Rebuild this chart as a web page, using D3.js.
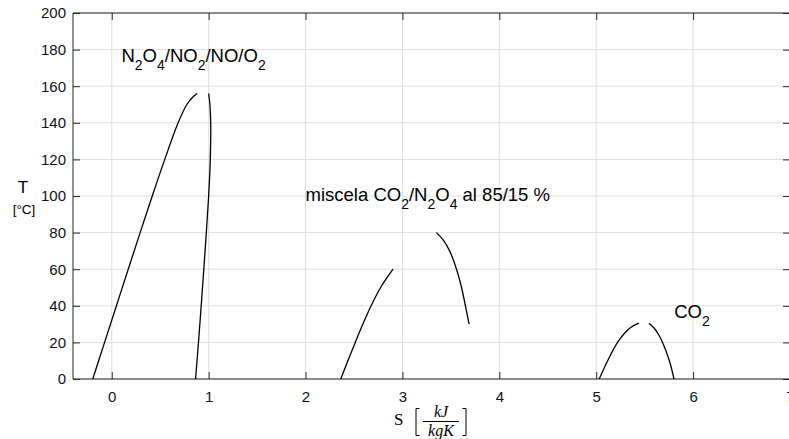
<!DOCTYPE html>
<html>
<head>
<meta charset="utf-8">
<script src="https://cdn.jsdelivr.net/npm/d3@7.9.0/dist/d3.min.js"></script>
<style>
  body { margin: 0; background: #fff; }
  svg { display: block; font-family: "Liberation Sans", Arial, sans-serif; }
</style>
</head>
<body>
<svg id="chart" width="789" height="439"></svg>
<script>
// axis ticks
const xTicks = [0, 1, 2, 3, 4, 5, 6, 7];
const yTicks = [0, 20, 40, 60, 80, 100, 120, 140, 160, 180, 200];

// saturation curves, [s kJ/kgK, T °C]
const n2o4Liquid = [[-0.196, 0], [-0.074, 20], [0.048, 40], [0.170, 60], [0.293, 80],
  [0.418, 100], [0.547, 120], [0.685, 140], [0.775, 150], [0.835, 154], [0.882, 156]];
const n2o4Vapor = [[1.0, 156], [1.013, 150], [1.021, 140], [1.017, 120], [1.0, 100],
  [0.976, 80], [0.95, 60], [0.923, 40], [0.895, 20], [0.865, 0]];
const mixLiquid = [[2.363, 0], [2.437, 10], [2.513, 20], [2.592, 30], [2.677, 40],
  [2.775, 50], [2.903, 60]];
const mixVapor = [[3.351, 80], [3.42, 76], [3.487, 70], [3.558, 60], [3.61, 50],
  [3.65, 40], [3.688, 30]];
const co2Liquid = [[5.031, 0], [5.118, 10], [5.22, 20], [5.292, 25], [5.352, 28], [5.44, 30.5]];
const co2Vapor = [[5.544, 30.5], [5.595, 28], [5.635, 25], [5.685, 20], [5.755, 10], [5.803, 0]];

const curves = [n2o4Liquid, n2o4Vapor, mixLiquid, mixVapor, co2Liquid, co2Vapor];

// labels: [s, T] anchor of the baseline start and text parts (true = subscript)
const labels = [
  { at: [0.1, 173], parts: [['N'], ['2', true], ['O'], ['4', true], ['/NO'], ['2', true], ['/NO/O'], ['2', true]] },
  { at: [2.0, 97.4], parts: [['miscela CO'], ['2', true], ['/N'], ['2', true], ['O'], ['4', true], [' al 85/15 %']] },
  { at: [5.805, 33.2], parts: [['CO'], ['2', true]] }
];

const svg = d3.select('#chart');
const mLeft = 73, mRight = 790, mTop = 13, mBottom = 379;

const x = d3.scaleLinear().domain([-0.4, 7]).range([mLeft, mRight]);
const y = d3.scaleLinear().domain([0, 200]).range([mBottom, mTop]);

const axisColor = '#262626';

// grid
svg.append('g').selectAll('line').data(xTicks).join('line')
  .attr('x1', d => x(d)).attr('x2', d => x(d))
  .attr('y1', mTop).attr('y2', mBottom)
  .attr('stroke', '#dfdfdf').attr('stroke-width', 1);
svg.append('g').selectAll('line').data(yTicks).join('line')
  .attr('x1', mLeft).attr('x2', mRight)
  .attr('y1', d => y(d)).attr('y2', d => y(d))
  .attr('stroke', '#dfdfdf').attr('stroke-width', 1);

// axes (ticks inward, box on all sides)
const tickLen = 7;
svg.append('g').attr('transform', `translate(0,${mBottom})`)
  .call(d3.axisBottom(x).tickValues(xTicks).tickSize(-tickLen).tickPadding(12))
  .call(g => g.select('.domain').attr('stroke', axisColor).attr('d', `M${mLeft},0H${mRight}`));
svg.append('g').attr('transform', `translate(0,${mTop})`)
  .call(d3.axisTop(x).tickValues(xTicks).tickSize(-tickLen).tickFormat(''))
  .call(g => g.select('.domain').attr('stroke', axisColor).attr('d', `M${mLeft},0H${mRight}`));
svg.append('g').attr('transform', `translate(${mLeft},0)`)
  .call(d3.axisLeft(y).tickValues(yTicks).tickSize(-tickLen).tickPadding(7))
  .call(g => g.select('.domain').attr('stroke', axisColor).attr('d', `M0,${mTop}V${mBottom}`));
svg.append('g').attr('transform', `translate(${mRight},0)`)
  .call(d3.axisRight(y).tickValues(yTicks).tickSize(-tickLen).tickFormat(''))
  .call(g => g.select('.domain').attr('stroke', axisColor).attr('d', `M0,${mTop}V${mBottom}`));

svg.selectAll('.tick line').attr('stroke', axisColor);
svg.selectAll('.tick text')
  .attr('fill', '#111')
  .attr('font-size', 15)
  .attr('font-family', '"Liberation Sans", Arial, sans-serif');

// curves
const line = d3.line()
  .x(d => x(d[0])).y(d => y(d[1]))
  .curve(d3.curveCatmullRom.alpha(0.5));

svg.append('g').selectAll('path').data(curves).join('path')
  .attr('d', line)
  .attr('fill', 'none')
  .attr('stroke', '#000')
  .attr('stroke-width', 1.3);

// annotation text with subscripts
function richText(g, px, py, parts, size, subSize, shift) {
  const t = g.append('text').attr('x', px).attr('y', py)
    .attr('font-size', size).attr('fill', '#000');
  let cur = 0;
  parts.forEach(([str, sub]) => {
    const target = sub ? shift : 0;
    t.append('tspan').attr('dy', target - cur)
      .attr('font-size', sub ? subSize : size).text(str);
    cur = target;
  });
  return t;
}

const labelG = svg.append('g');
labels.forEach(l => {
  richText(labelG, x(l.at[0]), y(l.at[1]), l.parts, 18.5, 14, 8);
});

// y label
svg.append('text').attr('x', 23).attr('y', 193).attr('text-anchor', 'middle')
  .attr('font-size', 17).text('T');
svg.append('text').attr('x', 24).attr('y', 214).attr('text-anchor', 'middle')
  .attr('font-size', 13.5).text('[°C]');

// x label: S [kJ / kgK]
const xl = svg.append('g').attr('font-family', '"Liberation Serif", "DejaVu Serif", serif');
xl.append('text').attr('x', 394).attr('y', 425).attr('font-size', 17).text('S');
xl.append('path').attr('d', 'M419.5,408.5H416V435.5H419.5')
  .attr('fill', 'none').attr('stroke', '#000').attr('stroke-width', 1);
xl.append('text').attr('x', 441).attr('y', 416.5).attr('text-anchor', 'middle')
  .attr('font-size', 16).attr('font-style', 'italic').text('kJ');
xl.append('line').attr('x1', 423).attr('x2', 459).attr('y1', 421.5).attr('y2', 421.5)
  .attr('stroke', '#000').attr('stroke-width', 1.2);
xl.append('text').attr('x', 441).attr('y', 436).attr('text-anchor', 'middle')
  .attr('font-size', 16).attr('font-style', 'italic').text('kgK');
xl.append('path').attr('d', 'M462.5,408.5H466V435.5H462.5')
  .attr('fill', 'none').attr('stroke', '#000').attr('stroke-width', 1);
</script>
</body>
</html>
